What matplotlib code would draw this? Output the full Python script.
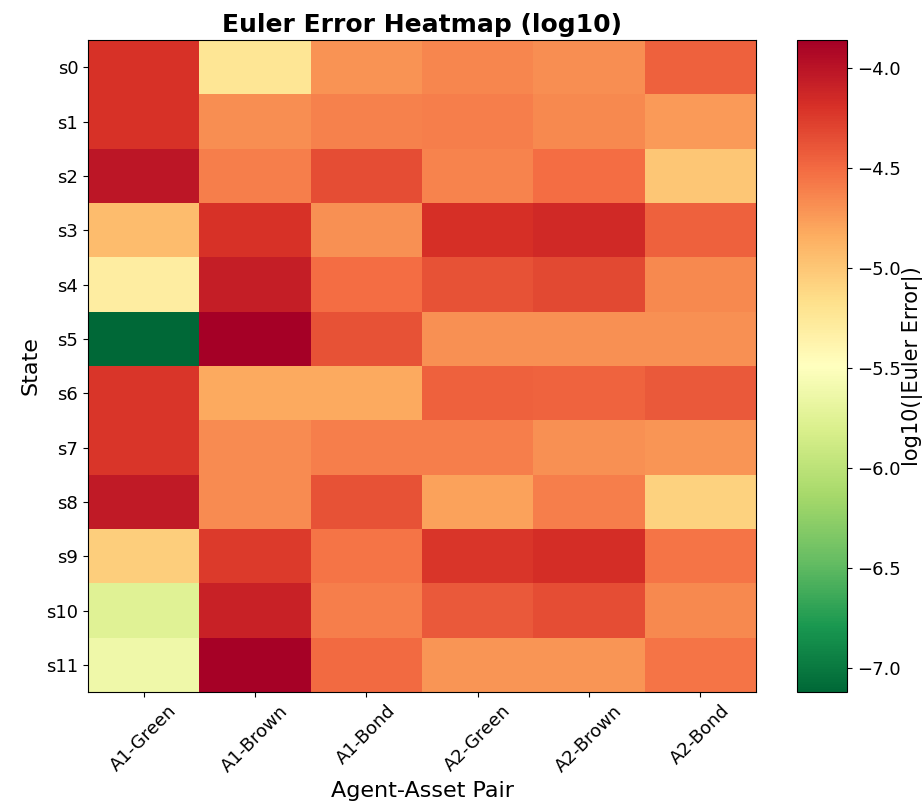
import matplotlib
matplotlib.use("Agg")
import matplotlib.pyplot as plt
import numpy as np

states = [f"s{i}" for i in range(12)]
pairs = ["A1-Green", "A1-Brown", "A1-Bond", "A2-Green", "A2-Brown", "A2-Bond"]

s0 = [-4.20, -5.23, -4.71, -4.64, -4.68, -4.45]
s1 = [-4.20, -4.68, -4.62, -4.60, -4.65, -4.75]
s2 = [-4.02, -4.60, -4.35, -4.63, -4.52, -5.00]
s3 = [-4.94, -4.20, -4.70, -4.18, -4.15, -4.45]
s4 = [-5.30, -4.07, -4.52, -4.38, -4.33, -4.65]
s5 = [-7.12, -3.86, -4.37, -4.70, -4.70, -4.70]
s6 = [-4.22, -4.82, -4.82, -4.45, -4.47, -4.42]
s7 = [-4.22, -4.67, -4.60, -4.60, -4.70, -4.72]
s8 = [-4.05, -4.67, -4.37, -4.78, -4.60, -5.08]
s9 = [-5.05, -4.25, -4.55, -4.22, -4.17, -4.55]
s10 = [-5.75, -4.10, -4.60, -4.42, -4.35, -4.65]
s11 = [-5.62, -3.88, -4.50, -4.72, -4.72, -4.55]

data = np.array([s0, s1, s2, s3, s4, s5, s6, s7, s8, s9, s10, s11])

fig = plt.figure(figsize=(9.22, 8.08), dpi=100)
ax = fig.add_axes([88/922, 1-692/808, (756-88)/922, (692-40)/808])
cax = fig.add_axes([797/922, 1-692/808, 50/922, (692-40)/808])
im = ax.imshow(data, cmap="RdYlGn_r", aspect="auto")
ax.set_xticks(range(len(pairs)))
ax.set_xticklabels(pairs, rotation=45, fontsize=13)
ax.set_yticks(range(len(states)))
ax.set_yticklabels(states, fontsize=13)
ax.set_xlabel("Agent-Asset Pair", fontsize=16)
ax.set_ylabel("State", fontsize=16)
ax.set_title("Euler Error Heatmap (log10)", fontsize=18, fontweight="bold")
cb = fig.colorbar(im, cax=cax)
cb.ax.tick_params(labelsize=13)
cb.set_label("log10(|Euler Error|)", fontsize=15, labelpad=1)
fig.savefig("out.png", dpi=100)
